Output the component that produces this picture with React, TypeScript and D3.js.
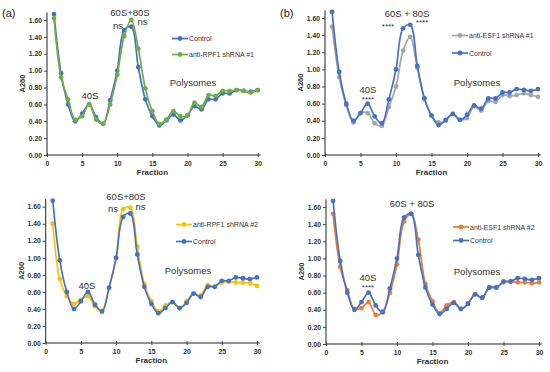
import React, { useEffect, useRef } from 'react';
import * as d3 from 'd3';

const fractions = d3.range(1, 31);

const control = [1.67, 0.97, 0.60, 0.40, 0.49, 0.60, 0.45, 0.37, 0.65, 1.00, 1.48, 1.52, 1.04, 0.66, 0.46,
  0.35, 0.41, 0.48, 0.41, 0.47, 0.58, 0.54, 0.66, 0.66, 0.73, 0.73, 0.77, 0.76, 0.75, 0.77];
const rpf1No1 = [1.62, 0.92, 0.66, 0.42, 0.46, 0.60, 0.42, 0.37, 0.60, 0.95, 1.41, 1.60, 1.26, 0.79, 0.52,
  0.37, 0.42, 0.52, 0.46, 0.47, 0.62, 0.57, 0.71, 0.70, 0.76, 0.76, 0.77, 0.76, 0.74, 0.77];
const esf1No1 = [1.50, 0.91, 0.58, 0.38, 0.49, 0.49, 0.37, 0.34, 0.56, 0.80, 1.22, 1.38, 1.02, 0.66, 0.46,
  0.38, 0.40, 0.48, 0.41, 0.43, 0.57, 0.52, 0.63, 0.62, 0.70, 0.69, 0.70, 0.72, 0.70, 0.68];
const rpf1No2 = [1.40, 0.75, 0.55, 0.46, 0.51, 0.55, 0.43, 0.38, 0.65, 1.00, 1.57, 1.59, 1.13, 0.69, 0.49,
  0.37, 0.44, 0.48, 0.41, 0.49, 0.58, 0.56, 0.68, 0.66, 0.71, 0.72, 0.71, 0.71, 0.70, 0.67];
const esf1No2 = [1.52, 0.90, 0.63, 0.41, 0.42, 0.49, 0.34, 0.38, 0.60, 0.93, 1.43, 1.52, 1.22, 0.70, 0.50,
  0.36, 0.45, 0.49, 0.41, 0.47, 0.58, 0.54, 0.66, 0.66, 0.72, 0.73, 0.72, 0.72, 0.71, 0.72];

const yTicks = [0, 0.2, 0.4, 0.6, 0.8, 1.0, 1.2, 1.4, 1.6];
const xTicks = [0, 5, 10, 15, 20, 25, 30];

const BLUE = '#4472c4';

interface Series { name: string; values: number[]; color: string; }
interface Note { text: string; x: number; y: number; size?: number; }
interface Panel {
  tag?: string;
  x0: number; x1: number; y0: number; y1: number;
  legendX: number; legendY: number[];
  legend: Series[];
  drawOrder: Series[];
  notes: Note[];
}

const ctrl: Series = { name: 'Control', values: control, color: BLUE };
const s1: Series = { name: 'anti-RPF1 shRNA #1', values: rpf1No1, color: '#70ad47' };
const s2: Series = { name: 'anti-ESF1 shRNA #1', values: esf1No1, color: '#a5a5a5' };
const s3: Series = { name: 'anti-RPF1 shRNA #2', values: rpf1No2, color: '#ffc000' };
const s4: Series = { name: 'anti-ESF1 shRNA #2', values: esf1No2, color: '#ed7d31' };

const panels: Panel[] = [
  {
    tag: '(a)', x0: 47, x1: 257.7, y0: 155, y1: 20,
    legendX: 172, legendY: [38.5, 54.5], legend: [ctrl, s1], drawOrder: [ctrl, s1],
    notes: [
      { text: '60S+80S', x: 130, y: 15.5 }, { text: 'ns', x: 118, y: 28.5 }, { text: 'ns', x: 142.5, y: 25 },
      { text: '40S', x: 90, y: 99 }, { text: 'Polysomes', x: 193, y: 86 },
    ],
  },
  {
    tag: '(b)', x0: 325, x1: 538, y0: 155, y1: 18,
    legendX: 452, legendY: [35.5, 53], legend: [s2, ctrl], drawOrder: [s2, ctrl],
    notes: [
      { text: '60S + 80S', x: 407, y: 16.5 }, { text: '****', x: 388, y: 29, size: 8 }, { text: '****', x: 422, y: 25, size: 8 },
      { text: '40S', x: 368, y: 93 }, { text: '****', x: 368, y: 102, size: 8 }, { text: 'Polysomes', x: 477, y: 86 },
    ],
  },
  {
    x0: 45.7, x1: 257, y0: 343, y1: 206.7,
    legendX: 176, legendY: [224.5, 241.5], legend: [s3, ctrl], drawOrder: [s3, ctrl],
    notes: [
      { text: '60S+80S', x: 126, y: 199.5 }, { text: 'ns', x: 113, y: 211.5 }, { text: 'ns', x: 140.5, y: 209.5 },
      { text: '40S', x: 87, y: 289 }, { text: 'Polysomes', x: 188, y: 274 },
    ],
  },
  {
    x0: 326, x1: 539, y0: 344, y1: 207,
    legendX: 453, legendY: [227, 240.5], legend: [s4, ctrl], drawOrder: [s4, ctrl],
    notes: [
      { text: '60S + 80S', x: 412, y: 207 }, { text: '40S', x: 368, y: 281 },
      { text: '****', x: 368, y: 290, size: 8 }, { text: 'Polysomes', x: 477, y: 275 },
    ],
  },
];

const FONT = '"Liberation Sans", Arial, sans-serif';

const App: React.FC = () => {
  const ref = useRef<SVGSVGElement>(null);

  useEffect(() => {
    if (!ref.current) return;
    const svg = d3.select(ref.current);
    svg.selectAll('*').remove();
    svg.append('rect').attr('width', 550).attr('height', 372).attr('fill', '#fff');

    panels.forEach(p => {
      const x = d3.scaleLinear().domain([0, 30]).range([p.x0, p.x1]);
      const y = d3.scaleLinear().domain([0, 1.6]).range([p.y0, p.y1]);
      const g = svg.append('g').style('font-family', FONT);

      // axes
      const yAxis = g.append('g').attr('transform', `translate(${p.x0},0)`)
        .call(d3.axisLeft(y).tickValues(yTicks).tickFormat(d3.format('.2f')).tickSize(3).tickSizeOuter(0));
      yAxis.select('.domain').attr('d', `M0,${y(0)}V${y(1.69)}`).attr('stroke', '#222').attr('stroke-width', 1);
      yAxis.selectAll('.tick line').attr('stroke', '#444');
      yAxis.selectAll('.tick text').attr('font-size', 6.8).attr('font-weight', 'bold').attr('fill', '#333')
        .attr('font-family', FONT).attr('x', -5);

      const xAxis = g.append('g').attr('transform', `translate(0,${p.y0})`)
        .call(d3.axisBottom(x).tickValues(xTicks).tickSize(2).tickSizeOuter(0));
      xAxis.select('.domain').attr('d', `M${x(0)},0H${x(30.4)}`).attr('stroke', '#222').attr('stroke-width', 1);
      xAxis.selectAll('.tick line').attr('stroke', '#444').attr('y1', -2);
      xAxis.selectAll('.tick text').attr('font-size', 6.8).attr('font-weight', 'bold').attr('fill', '#333')
        .attr('font-family', FONT).attr('dy', '0.9em');

      g.append('text').attr('x', (p.x0 + p.x1) / 2).attr('y', p.y0 + 20)
        .attr('text-anchor', 'middle').attr('font-size', 8).attr('font-weight', 'bold').attr('fill', '#333')
        .text('Fraction');
      g.append('text')
        .attr('transform', `translate(${p.x0 - 22},${(p.y0 + p.y1) / 2 - 4}) rotate(-90)`)
        .attr('text-anchor', 'middle').attr('font-size', 7.5).attr('font-weight', 'bold').attr('fill', '#333')
        .text('A260');

      if (p.tag) {
        g.append('text').attr('x', p.x0 - 45).attr('y', 17).attr('font-size', 11).attr('fill', '#222').text(p.tag);
      }

      const line = d3.line<number>()
        .x((_, i) => x(fractions[i]))
        .y(d => y(d))
        .curve(d3.curveCatmullRom.alpha(0.5));

      p.drawOrder.forEach(s => {
        g.append('path').datum(s.values).attr('fill', 'none').attr('stroke', s.color)
          .attr('stroke-width', 1.7).attr('d', line);
        g.append('g').selectAll('circle').data(s.values).join('circle')
          .attr('cx', (_, i) => x(fractions[i])).attr('cy', d => y(d)).attr('r', 2.4).attr('fill', s.color);
      });

      // legend
      p.legend.forEach((s, i) => {
        const ly = p.legendY[i];
        g.append('line').attr('x1', p.legendX).attr('x2', p.legendX + 16).attr('y1', ly).attr('y2', ly)
          .attr('stroke', s.color).attr('stroke-width', 1.7);
        g.append('circle').attr('cx', p.legendX + 8).attr('cy', ly).attr('r', 2.4).attr('fill', s.color);
        g.append('text').attr('x', p.legendX + 17).attr('y', ly + 2.5).attr('font-size', 7).attr('fill', '#333')
          .text(s.name);
      });

      p.notes.forEach(n => {
        g.append('text').attr('x', n.x).attr('y', n.y).attr('text-anchor', 'middle')
          .attr('font-size', n.size ?? 9.5).attr('fill', '#333').text(n.text);
      });
    });
  }, []);

  return <svg ref={ref} width={550} height={372} style={{ position: 'absolute', left: 0, top: 0 }} />;
};

export default App;
